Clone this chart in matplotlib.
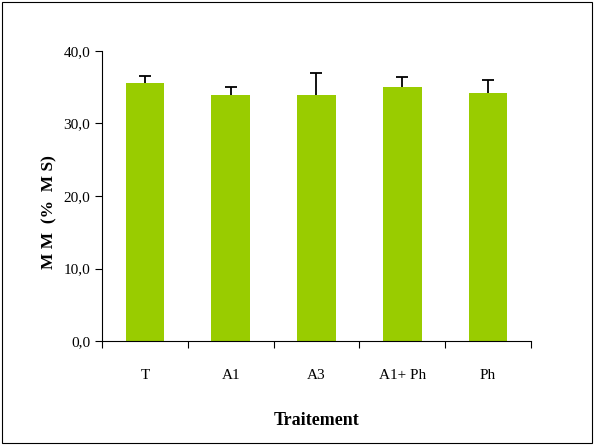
import matplotlib.pyplot as plt
import numpy as np
from matplotlib.patches import Rectangle

traitements = ['T', 'A1', 'A3', 'A1+ Ph', 'Ph']
mm = [35.6, 33.9, 33.9, 35.0, 34.2]
ecart = [1.0, 1.2, 3.1, 1.4, 1.8]

plt.rcParams['font.family'] = ['Liberation Serif', 'DejaVu Serif']

fig = plt.figure(figsize=(5.94, 4.45), dpi=100)
ax = fig.add_axes([0.1717, 0.2337, 0.7222, 0.6517])

x = np.arange(len(traitements))
haut = np.array(mm) + np.array(ecart)
ax.bar(x, mm, width=0.45, color='#99CC00', zorder=2)
# barres d'erreur vers le haut seulement
ax.vlines(x, mm, haut, color='black', linewidth=1.3, zorder=3)
ax.plot(x, haut, linestyle='none', marker='_', markersize=9,
        markeredgewidth=1.3, color='black', zorder=3)

ax.set_xlim(-0.5, len(traitements) - 0.5)
ax.set_ylim(0, 40)
ax.set_yticks([0, 10, 20, 30, 40])
ax.set_yticklabels(['0,0', '10,0', '20,0', '30,0', '40,0'], fontsize=11)

# graduations entre les catégories
ax.set_xticks(np.arange(-0.5, len(traitements), 1.0))
ax.set_xticklabels([])
ax.set_xticks(x, minor=True)
ax.set_xticklabels(traitements, minor=True, fontsize=11)
ax.tick_params(axis='x', which='minor', length=0, pad=20)
ax.tick_params(axis='x', which='major', length=5, direction='out')
ax.tick_params(axis='y', length=5, direction='out')

for s in ['top', 'right']:
    ax.spines[s].set_visible(False)

ax.set_ylabel('M M  (%  M S)', fontsize=12.5, fontweight='bold')
ax.yaxis.set_label_coords(-0.105, 0.445)
ax.set_xlabel('Traitement', fontsize=13, fontweight='bold', labelpad=22)

fig.patches.append(Rectangle((0.003, 0.004), 0.994, 0.992, transform=fig.transFigure,
                             fill=False, edgecolor='black', linewidth=0.8))

fig.savefig('out.png', dpi=100)
